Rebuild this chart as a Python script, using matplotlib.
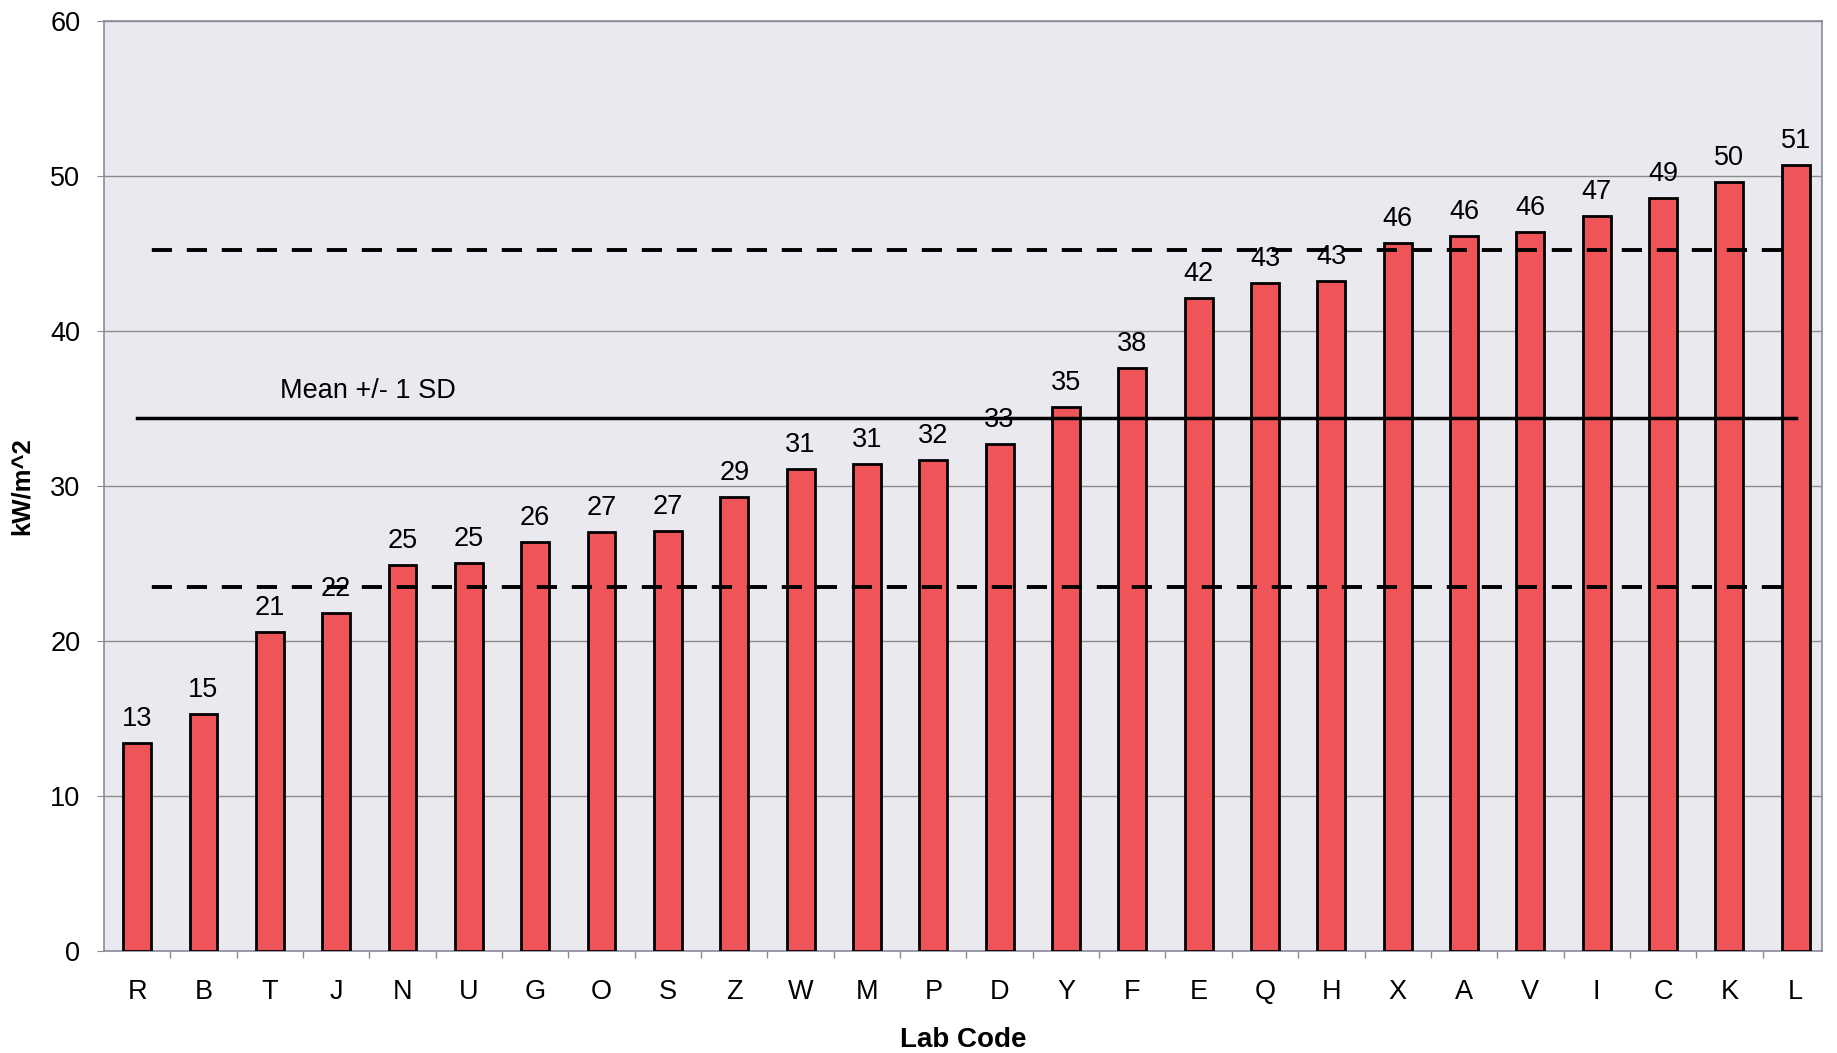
import matplotlib

matplotlib.use("Agg")
import matplotlib.pyplot as plt
import numpy as np

# Lab results, sorted ascending (kW/m^2)
labs = ["R", "B", "T", "J", "N", "U", "G", "O", "S", "Z", "W", "M", "P",
        "D", "Y", "F", "E", "Q", "H", "X", "A", "V", "I", "C", "K", "L"]
values = [13.4, 15.3, 20.6, 21.8, 24.9, 25.0, 26.4, 27.0, 27.1, 29.3, 31.1,
          31.4, 31.7, 32.7, 35.1, 37.6, 42.1, 43.1, 43.2, 45.7, 46.1, 46.4,
          47.4, 48.6, 49.6, 50.7]
mean_value = 34.4
sd_low = 23.5
sd_high = 45.2
y_ticks = [0, 10, 20, 30, 40, 50, 60]

plt.rcParams["font.family"] = ["Liberation Sans", "DejaVu Sans"]

fig = plt.figure(figsize=(18.37, 10.53), dpi=100)
ax = fig.add_axes([0.0566, 0.097, 0.9354, 0.883])
ax.set_facecolor("#e9e9ef")

x = np.arange(len(labs))
ax.bar(x, values, width=0.42, color="#ef5459", edgecolor="black",
       linewidth=2.0, zorder=3)

for xi, v in zip(x, values):
    ax.annotate(f"{v:.0f}", (xi, v), xytext=(0, 8), textcoords="offset points",
                ha="center", va="bottom", fontsize=19.5, zorder=5)

ax.plot([x[0], x[-1]], [mean_value, mean_value], color="black",
        linewidth=2.5, zorder=4)
for level in (sd_low, sd_high):
    ax.plot([x[0], x[-1]], [level, level], color="black", linewidth=2.8,
            linestyle=(5.2, (5.2, 3.8)), zorder=4)

ax.text(2.15, 36.1, "Mean +/- 1 SD", fontsize=19.5, va="center", ha="left",
        zorder=5)

ax.set_xlim(-0.5, len(labs) - 0.6)
ax.set_ylim(0, 60)
ax.set_yticks(y_ticks)
ax.set_xticks(x)
ax.set_xticklabels(labs)
ax.set_xticks(x[:-1] + 0.5, minor=True)
ax.tick_params(axis="x", which="major", length=0, pad=20, labelsize=19.5)
ax.tick_params(axis="x", which="minor", length=5, color="#8a8a96", width=1)
ax.tick_params(axis="y", length=5, pad=12, labelsize=19.5, color="#8a8a96")

ax.grid(axis="y", color="#8c8c8c", linewidth=1.0, zorder=1)
for side in ("left", "right", "top", "bottom"):
    ax.spines[side].set_color("#8a8a9c")
    ax.spines[side].set_linewidth(1.2)

ax.set_xlabel("Lab Code", fontsize=20, fontweight="bold", labelpad=16)
ax.set_ylabel("kW/m^2", fontsize=18.5, fontweight="bold", labelpad=12)

fig.savefig("out.png", dpi=100)
plt.close(fig)
